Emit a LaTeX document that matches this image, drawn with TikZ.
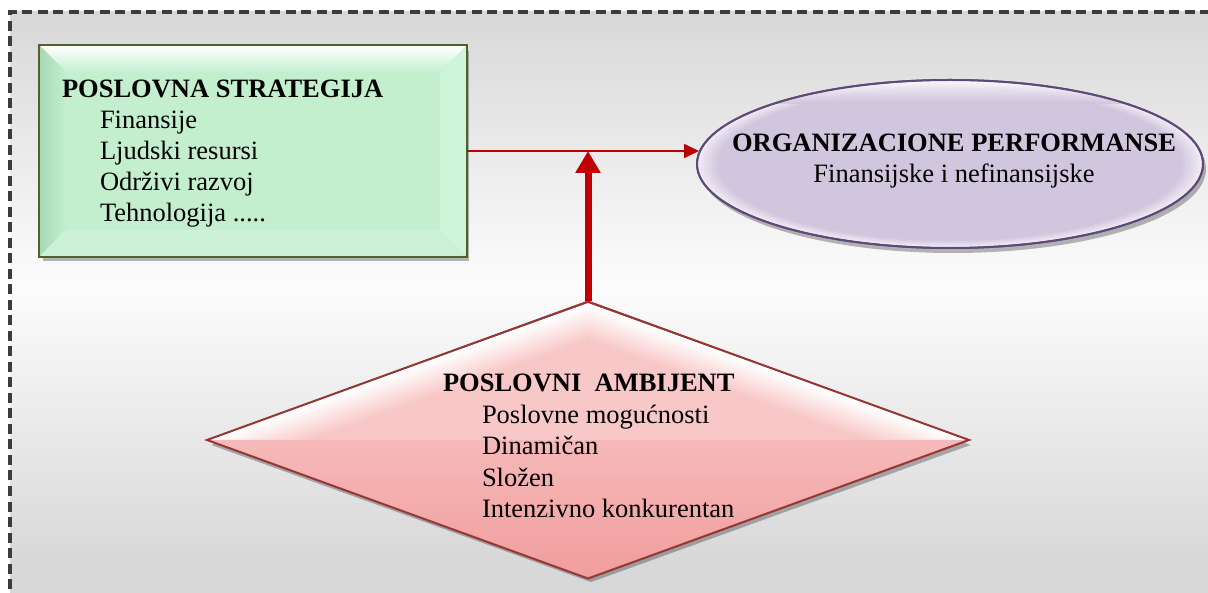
\documentclass[tikz,border=0pt]{standalone}
\usepackage{fontspec}
\setmainfont{Liberation Serif}
\usetikzlibrary{shapes.geometric,shadows,arrows.meta,calc}

\definecolor{framegray}{HTML}{3C3C3C}
\definecolor{bgtop}{HTML}{D8D8D8}
\definecolor{bgmid}{HTML}{FCFCFC}
\definecolor{greenfill}{HTML}{C3EFCF}
\definecolor{greendark}{HTML}{A8D9B6}
\definecolor{greenlight}{HTML}{CEF5D9}
\definecolor{greenline}{HTML}{4F6228}
\definecolor{purplefill}{HTML}{CCC1DA}
\definecolor{purplelight}{HTML}{EEE9F4}
\definecolor{purpleline}{HTML}{5F497A}
\definecolor{pinkup}{HTML}{F8C6C6}
\definecolor{pinklowtop}{HTML}{F6B9B9}
\definecolor{pinkbot}{HTML}{F19D9D}
\definecolor{pinkline}{HTML}{953735}
\definecolor{arrowred}{HTML}{C00000}

\begin{document}
\begin{tikzpicture}[x=1pt,y=-1pt,
  txt/.style={font=\fontsize{26.5}{31}\selectfont, inner sep=0pt, outer sep=0pt},
  softshadow/.style={drop shadow={shadow xshift=3pt,shadow yshift=-5pt,opacity=0.28,fill=black}},
  stratbox/.style={rectangle, draw=greenline, line width=2pt, fill=greenfill,
    minimum width=426pt, minimum height=210pt, inner sep=0pt, softshadow},
  perfshape/.style={ellipse, draw=purpleline, line width=2pt, fill=purplefill,
    minimum width=506pt, minimum height=168pt, inner sep=0pt, softshadow},
  ambshape/.style={diamond, draw=pinkline, line width=2pt, fill=pinkup,
    minimum width=760pt, minimum height=275pt, inner sep=0pt, softshadow},
  thinarrow/.style={draw=arrowred, line width=2pt, -{Triangle[width=14pt,length=15pt]}},
  thickarrow/.style={draw=arrowred, line width=7pt, -{Triangle[width=24pt,length=22pt]}},
]
\useasboundingbox (0,0) rectangle (1208,593);

% page and dashed frame with grey gradient
\fill[white] (0,0) rectangle (1208,593);
\shade[top color=bgtop, bottom color=bgtop, middle color=bgmid] (10,12) rectangle (1240,560);
\fill[bgtop] (10,559) rectangle (1240,600);
\draw[framegray, line width=3.5pt, dash pattern=on 10pt off 5.5pt] (10,620) -- (10,12) -- (1240,12);

% business strategy box
\node[stratbox] (strat) at (253,151) {};
\shade[top color=white, bottom color=greenfill] (40,46) -- (466,46) -- (440,72) -- (66,72) -- cycle;
\shade[left color=greendark, right color=greenfill] (40,46) -- (66,72) -- (66,230) -- (40,256) -- cycle;
\fill[greenlight] (466,46) -- (466,256) -- (440,230) -- (440,72) -- cycle;
\fill[greenfill!85!white] (40,256) -- (66,230) -- (440,230) -- (466,256) -- cycle;
\draw[greenline, line width=2pt] (strat.north west) rectangle (strat.south east);
\node[txt, anchor=base west] (stratText) at (62,98) {%
  \begin{tabular}[t]{@{}l@{}}
  \textbf{POSLOVNA STRATEGIJA}\\
  \hspace*{38pt}Finansije\\
  \hspace*{38pt}Ljudski resursi\\
  \hspace*{38pt}Održivi razvoj\\
  \hspace*{38pt}Tehnologija .....
  \end{tabular}};

% organisational performance ellipse
\node[perfshape] (perf) at (950,164) {};
\begin{scope}
  \clip (perf.center) ellipse [x radius=252pt, y radius=83pt];
  \foreach \k in {0,...,7} {
    \pgfmathsetmacro{\s}{1-0.011*\k}
    \pgfmathsetmacro{\m}{100-12.5*\k}
    \fill[purplelight!\m!purplefill] (perf.center) ellipse [x radius=\s*252pt, y radius=\s*83pt];
  }
  \shade[top color=white, bottom color=purplefill, opacity=0.8] (697,80) rectangle (1203,104);
\end{scope}
\draw[purpleline, line width=2pt] (perf.center) ellipse [x radius=253pt, y radius=84pt];
\node[txt, anchor=base] (perfText) at (954,152) {%
  \begin{tabular}[t]{@{}c@{}}
  \textbf{ORGANIZACIONE PERFORMANSE}\\
  Finansijske i nefinansijske
  \end{tabular}};

% business environment diamond
\node[ambshape] (amb) at (588,440) {};
\begin{scope}
  \clip (amb.west) -- (amb.north) -- (amb.east) -- cycle;
  \foreach \k in {0,...,11} {
    \pgfmathsetmacro{\s}{1-0.024*\k}
    \pgfmathsetmacro{\m}{min(100,9*\k)}
    \fill[pinkup!\m!white] ($(amb.center)+(-380*\s,0)$) -- ($(amb.center)+(0,-137*\s)$)
      -- ($(amb.center)+(380*\s,0)$) -- ($(amb.center)+(0,137*\s)$) -- cycle;
  }
\end{scope}
\begin{scope}
  \clip (amb.west) -- (amb.south) -- (amb.east) -- cycle;
  \shade[top color=pinklowtop, bottom color=pinkbot] (208,440) rectangle (968,578);
\end{scope}
\draw[pinkline, line width=2pt] (amb.north) -- (amb.east) -- (amb.south) -- (amb.west) -- cycle;
\node[txt, font=\fontsize{26.5}{31.5}\selectfont, anchor=base west] (ambText) at (443,392) {%
  \begin{tabular}[t]{@{}l@{}}
  \textbf{POSLOVNI\ \ AMBIJENT}\\
  \hspace*{39pt}Poslovne mogućnosti\\
  \hspace*{39pt}Dinamičan\\
  \hspace*{39pt}Složen\\
  \hspace*{39pt}Intenzivno konkurentan
  \end{tabular}};

% connectors
\coordinate (join) at (amb.north |- strat.east);
\coordinate (perfIn) at (699,151);
\draw[thinarrow] (strat.east) -- (perfIn);
\draw[thickarrow] (amb.north) -- (join);
\end{tikzpicture}
\end{document}
